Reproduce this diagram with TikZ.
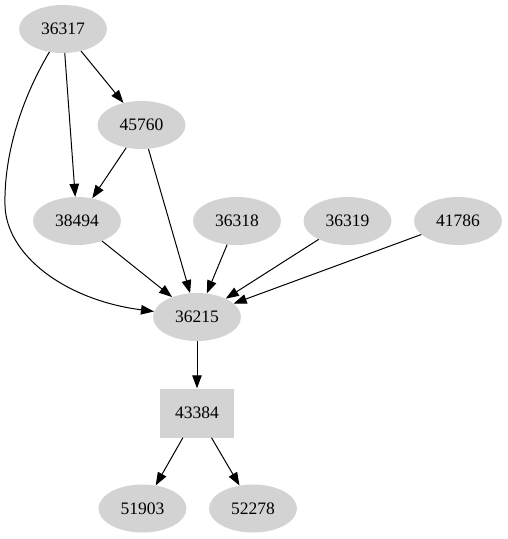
\documentclass[tikz,border=0pt]{standalone}
\usepackage{fontspec}
\setmainfont{Liberation Serif}
\usetikzlibrary{shapes.geometric,arrows.meta}
\definecolor{gvgray}{RGB}{211,211,211}
\tikzset{
  ell/.style={ellipse, fill=gvgray, draw=none, minimum width=88pt, minimum height=48pt, inner sep=0pt, font=\fontsize{17.5}{20}\selectfont},
  boxnode/.style={rectangle, fill=gvgray, draw=none, minimum width=74pt, minimum height=49pt, inner sep=0pt, font=\fontsize{17.5}{20}\selectfont},
  edge/.style={draw=black, line width=1pt, -{Triangle[length=13pt,width=9.5pt]}}
}
\begin{document}
\begin{tikzpicture}[x=1pt,y=-1pt]
\useasboundingbox (0,0) rectangle (507,539);
\node[ell] (a36317) at (63,29) {36317};
\node[ell] (a45760) at (141.5,125) {45760};
\node[ell] (a38494) at (77,221) {38494};
\node[ell] (a36318) at (237,221) {36318};
\node[ell] (a36319) at (347.5,221) {36319};
\node[ell] (a41786) at (458,221) {41786};
\node[ell] (a36215) at (197,317) {36215};
\node[boxnode] (a43384) at (197,413) {43384};
\node[ell] (a51903) at (142.5,508.5) {51903};
\node[ell] (a52278) at (253,508.5) {52278};
\coordinate (bend) at (5,205);
\draw[line width=1pt] (a36317) .. controls (18,105) and (4,160) .. (bend);
\draw[edge] (bend) .. controls (6,255) and (65,300) .. (a36215);
\draw[edge] (a36317) -- (a45760);
\draw[edge] (a36317) -- (a38494);
\draw[edge] (a45760) -- (a38494);
\draw[edge] (a45760) -- (a36215);
\draw[edge] (a38494) -- (a36215);
\draw[edge] (a36318) -- (a36215);
\draw[edge] (a36319) -- (a36215);
\draw[edge] (a41786) -- (a36215);
\draw[edge] (a36215) -- (a43384);
\draw[edge] (a43384) -- (a51903);
\draw[edge] (a43384) -- (a52278);
\end{tikzpicture}
\end{document}
